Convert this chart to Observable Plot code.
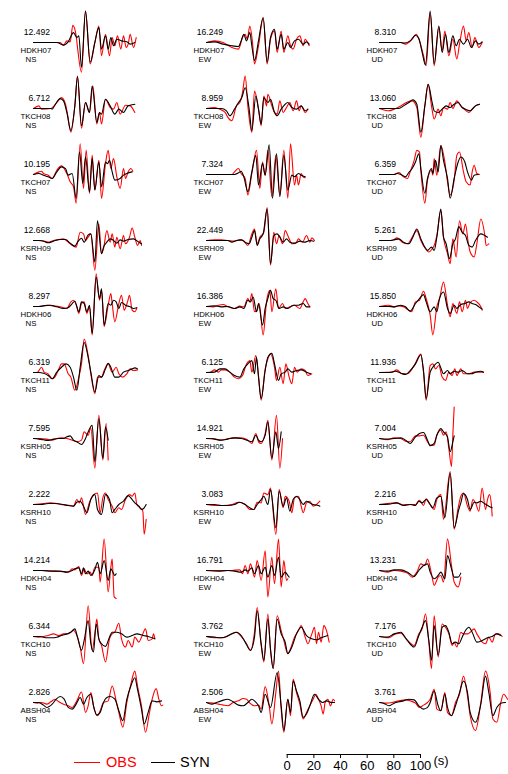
<!DOCTYPE html>
<html><head><meta charset="utf-8">
<script src="https://cdn.jsdelivr.net/npm/d3@7"></script>
<script src="https://cdn.jsdelivr.net/npm/@observablehq/plot@0.6"></script>
<style>
body{margin:0;background:#fff;}
#wrap{position:relative;width:508px;height:774px;font-family:"Liberation Sans",Arial,sans-serif;overflow:hidden;}
#wrap svg{display:block;}
.ln{position:absolute;height:0;}
.tx{position:absolute;font-size:14.5px;line-height:15px;}
</style></head><body><div id="wrap"></div>
<script>
const stations = ["HDKH07","TKCH08","TKCH07","KSRH09","HDKH06","TKCH11","KSRH05","KSRH10","HDKH04","TKCH10","ABSH04"];
const components = ["NS","EW","UD"];
const peakNS = ["12.492","6.712","10.195","12.668","8.297","6.319","7.595","2.222","14.214","6.344","2.826"];
const peakEW = ["16.249","8.959","7.324","22.449","16.386","6.125","14.921","3.083","16.791","3.762","2.506"];
const peakUD = ["8.310","13.060","6.359","5.261","15.850","11.936","7.004","2.216","13.231","7.176","3.761"];
const timeTicks = [0,20,40,60,80,100];

// [time (s), amplitude (% of panel max)]
const obsNS = [
[[0,0],[20,0],[22.5,-8],[25,5],[27.5,2],[29.5,52],[32,20],[33,-15],[36,-90],[39,95],[42.5,-65],[46,0],[49,50],[51,-40],[54,25],[57,-40],[59,15],[61,-10],[63,20],[65.5,-20],[67.5,20],[69.5,-15],[71,-5],[72.5,25],[75,-15],[77,15]],
[[0,0],[4,8],[6,-2],[13,0],[17.5,18],[21,33],[24,13],[25.5,-17],[28,-72],[31,8],[33,98],[36,-60],[39,18],[42,-12],[44.5,68],[47.5,-47],[49.5,-12],[51,-47],[54,28],[57.5,3],[60,-2],[62.5,18],[65,-17],[69,10],[72.5,8],[76,-12]],
[[0,0],[4,8],[6,10],[7.5,3],[11,-2],[14,-12],[17.5,13],[21,26],[25,3],[27.5,-22],[30,-37],[32,-87],[35,93],[37.5,-42],[39.5,73],[42,-57],[44,58],[46,-47],[49,43],[51,-72],[54,33],[56,73],[58,18],[60,48],[62.5,-7],[65,-42],[67.5,18],[69,-12],[71,8],[73,18],[74.5,10]],
[[0,0],[6,0],[11,-5],[15,0],[19,3],[22.5,5],[27.5,-10],[32,-20],[35,25],[37.5,20],[39,0],[41,10],[43,20],[46,-90],[49,50],[51,-40],[52.5,-25],[55,30],[57.5,-5],[59,20],[61,-20],[62.5,10],[65,-25],[67.5,15],[69,-10],[72,10],[74,38],[76,10],[78,-15],[80,0],[81,-15]],
[[0,0],[5,0],[10,4],[15,2],[20,-1],[25,-6],[28,14],[30,19],[32.5,-1],[34,-21],[36,9],[38,14],[40,-21],[42,-1],[44,-86],[47,99],[49.5,19],[51,49],[53,-61],[56,4],[58,39],[59,9],[61,-46],[64,9],[66,34],[68,-11],[70.5,14],[72,34],[74,-11],[76,-16],[77.5,-4]],
[[0,0],[3,1],[6,16],[8,1],[11,-4],[14,-19],[16,-14],[19,11],[21,26],[23,26],[26,-4],[28,-14],[31,-54],[34,-14],[36,26],[38,101],[41,51],[43,-4],[46,-64],[48,-14],[51,-14],[53,6],[56,26],[59,1],[62,16],[64,-4],[67,-14],[70,-4],[72.5,11],[75,6],[78,8]],
[[0,0],[5,0],[10,-2],[14,-5],[17.5,0],[21,2],[25,0],[29,-5],[32.5,-10],[36,-5],[38,20],[41,10],[43,32],[46,-90],[49,70],[52,-65],[54.5,45],[56,-65]],
[[0,0],[7.5,3],[12.5,5],[17.5,3],[22.5,-1],[27.5,-3],[30,-5],[32.5,15],[34.5,5],[36,20],[39,-30],[42,7],[45,30],[48,35],[50,-25],[52,20],[54,35],[56,15],[59,-5],[61,-25],[64,-10],[66,-15],[69,15],[72,30],[74,25],[76,35],[77.5,0],[80,-10],[82,-20],[83,-90],[84.5,-45]],
[[0,0],[7.5,0],[16,-2],[22.5,-4],[26,-5],[29,5],[31,2],[34,12],[36,-15],[38,5],[40,-10],[42.5,-5],[44,-15],[46,10],[49,10],[50,-35],[53,95],[56,-65],[58,10],[59,35],[60.5,-80],[62,-85]],
[[0,0],[4,-2],[7.5,0],[11,3],[15,8],[19,3],[22.5,8],[26,8],[30,18],[32.5,3],[35,-32],[37.5,-82],[41,93],[44,-42],[46,8],[47.5,53],[49,-7],[51,-27],[54,-77],[57,-7],[59,8],[61,13],[64,40],[66,-7],[69,-32],[71,-12],[74,-32],[76,-2],[79,-17],[81,-2],[84,23],[86,-12],[89,-7],[90,8],[91,-7]],
[[0,0],[3,-2],[6,0],[10,-5],[13,2],[16,10],[19,2],[22.5,-5],[26,-10],[29,-15],[32.5,5],[36,32],[39,-30],[41,-10],[43,30],[45.5,-20],[48,-40],[50,-25],[52.5,0],[56,5],[59,50],[62,5],[64,-30],[67,-75],[70,0],[73,55],[76,95],[78,50],[81,-10],[84,-90],[87,-30],[89,10],[92,42],[94,10],[96,-10],[97,-8]]
];
const synNS = [
[[0,0],[17.5,0],[22.5,-8],[26,2],[30,30],[32.5,15],[34,20],[36,-75],[39,95],[42.5,-60],[46,0],[49,45],[51,-20],[54,20],[56,-20],[58,15],[60,-10],[62.5,10],[66,5],[70,2],[72.5,-5],[76,0]],
[[0,0],[13,0],[14,-2],[16,10],[20,30],[22.5,23],[25,-12],[28,-67],[31,8],[33,96],[36,-52],[39,18],[42,-12],[44,68],[47.5,-42],[49.5,-12],[51,-17],[54,28],[57.5,8],[61,-17],[64,-2],[67.5,-12],[71,8],[76,13]],
[[0,0],[4,3],[7.5,-2],[11,-7],[14,-12],[17.5,8],[21,23],[24,18],[26,-2],[29,3],[32,-72],[34.5,68],[37,-27],[39,53],[42,-52],[44,48],[46,-47],[49,38],[51,-37],[54,38],[55.5,33],[57,43],[59,8],[61,-17],[65,-12],[67.5,-2],[70,3],[74,8]],
[[0,0],[4,0],[7.5,-2],[11,-7],[15,-2],[20,3],[24,3],[27.5,-8],[31,-17],[33,-5],[36,7],[38,-5],[41,17],[43,20],[46,-65],[48,60],[51,-40],[52.5,-20],[55,-5],[57.5,5],[60,0],[62.5,-8],[65,2],[67.5,-2],[71,3],[75,5],[79,-5],[81,-10]],
[[0,0],[4,0],[7.5,2],[12.5,4],[17.5,-1],[22.5,-6],[26,-4],[29,9],[31,16],[34,-16],[36,14],[38,9],[40,-16],[42,4],[44,-81],[47,89],[49.5,24],[51,54],[53,-56],[56,9],[58,4],[60,19],[62,14],[64,-6],[66,12],[69,4],[72.5,-1],[75,-6],[77.5,-4]],
[[0,0],[4,0],[7.5,-2],[11,-9],[14,-19],[17.5,1],[21,16],[24.5,26],[27.5,16],[30,-14],[32.5,-54],[35,16],[38,91],[41,46],[43,1],[46,-59],[49,-9],[51,-14],[54,11],[56,28],[58,16],[61,-14],[64,-14],[67.5,1],[71,6],[74,11],[76,14],[78,11]],
[[0,0],[4,-2],[7.5,-4],[11,-6],[15,-2],[19,0],[22.5,0],[25,5],[27.5,8],[30,-5],[32.5,-10],[36,-18],[39,0],[41,20],[44,40],[46,-70],[49,60],[52,-60],[54,35],[56,-5]],
[[0,0],[6,0],[11,3],[16,3],[21,1],[26,-3],[30,-5],[32.5,7],[35,10],[37.5,-5],[40,-25],[43,15],[46,30],[48,-15],[51,-30],[54,30],[57,15],[59,-25],[61,-15],[64,0],[67.5,10],[71,27],[74,15],[76,5],[79,-5],[81,-15],[83,-10],[84.5,0]],
[[0,0],[6,0],[14,-2],[20,-2],[25,-5],[29,0],[31,5],[34,8],[36,-10],[37.5,8],[39,-10],[41,-2],[43,-15],[46,2],[48,25],[50,-10],[53,30],[56,-30],[58,5],[59.5,-5],[61,-15],[62,-10]],
[[0,0],[5,0],[10,-4],[14,-4],[17.5,-2],[21,3],[25,8],[28,13],[31,23],[33,-2],[36,-42],[38,-12],[41,48],[43,-22],[45,-47],[47,38],[49,-7],[51,-22],[54,-30],[57,-2],[59,13],[62.5,13],[66,8],[70,-2],[74,3],[77.5,8],[82.5,3],[86,0],[91,-7]],
[[0,0],[4,0],[7.5,-8],[10,-15],[14,-5],[17,10],[20,18],[23,10],[26,-15],[29,-20],[32,-5],[35,15],[37.5,-5],[40,15],[43,25],[45,-10],[47.5,-38],[50,-30],[52.5,0],[55,15],[57.5,18],[61,10],[64,-25],[67,-55],[70,10],[73,50],[76,75],[78,40],[81,-20],[83,-65],[86,-30],[89,5],[92.5,2],[96,5]]
];
const obsEW = [
[[0,0],[6,5],[12.5,0],[19,-15],[24,-20],[27,15],[29,25],[30.5,10],[32.5,50],[34.5,0],[36,-65],[39,-10],[42.5,75],[45.5,-65],[48,10],[51,35],[53,-30],[56,35],[58,-30],[61,20],[63,-10],[65,-20],[67.5,10],[70,20],[72.5,-10],[74,10],[77,-10]],
[[0,0],[6,3],[10,-2],[14,-12],[16,-27],[19,-37],[22.5,8],[25,18],[27,48],[29,98],[31,8],[34,-72],[36,53],[39,-2],[41,-52],[43,38],[45,8],[46,43],[49,8],[51,-12],[53,-17],[55,23],[57.5,-12],[60,3],[62.5,18],[65,-7],[67.5,23],[69.5,-7],[71,8],[74,-12],[76,-2]],
[[0,0],[19,0],[21,8],[24,18],[26,3],[29,-12],[31,-62],[34,3],[37.5,73],[40,-42],[42,38],[44,-2],[46,73],[49,-67],[52,58],[55,-62],[58,73],[61,-72],[63,93],[66,-32],[67.5,-2],[69,-32],[71,3],[72.5,-7],[74,-10]],
[[0,0],[6,2],[11,2],[16,0],[21,-2],[25,2],[27.5,0],[31,-15],[34,20],[36,35],[38,-10],[40,10],[43,25],[45.5,100],[48,-75],[50.5,25],[52.5,-10],[54.5,15],[57,-10],[59,30],[62,5],[64,-10],[67,-8],[69,5],[72,-5],[75,15],[77.5,-5],[79,8],[81,0]],
[[0,0],[5,-1],[9,4],[12.5,6],[16,-1],[21,-6],[25,1],[28,-1],[31,24],[32.5,14],[34,39],[36,-16],[38,-11],[39.5,9],[42.5,-86],[45,14],[47.5,49],[49,-16],[52,54],[54,-6],[57,9],[59,-6],[62.5,-1],[66,4],[70,-6],[72.5,14],[74,24],[76,9],[77.5,-1]],
[[0,0],[3,1],[6,8],[9,1],[11,8],[14,8],[17.5,1],[21,-14],[24,-19],[27,-9],[30,26],[32.5,36],[34,1],[37,51],[39,-9],[41,-84],[44,11],[46,41],[48,56],[51,16],[52.5,-24],[55,16],[57.5,-34],[59.5,26],[62,-14],[64,-34],[66,16],[68,1],[71,11],[74,6],[76,-9],[79,-4]],
[[0,0],[5,0],[10,-5],[15,-2],[20,2],[25,2],[30,-2],[34,-15],[37,15],[39,-10],[41,-15],[44,15],[46,55],[49,-65],[52.5,70],[55,-90],[57,0]],
[[0,0],[6,-3],[12.5,-3],[19,0],[24,7],[29,0],[32.5,-15],[35.5,-15],[38,7],[41,5],[43,35],[46,30],[48,50],[52,-90],[54.5,45],[57.5,-10],[59,25],[62,10],[64,-25],[66,20],[69,25],[71,-5],[72.5,-25],[75,5],[77.5,10],[80,-5],[82.5,0],[85,10]],
[[0,0],[9,0],[19,0],[25,2],[27,-10],[29,15],[31,-10],[33,20],[36,-20],[38,30],[41,-30],[44,60],[46,-80],[49,40],[51,-40],[54,95],[56,-50],[58,30],[60,-30],[61,-25]],
[[0,0],[6,-4],[12.5,-4],[19,8],[22.5,13],[26,0],[30,-22],[33,-42],[36,13],[38,88],[41,-27],[43,-77],[46,68],[48,-42],[50,-97],[53,63],[56,18],[58,-12],[61,-52],[63,-37],[66,-2],[69,18],[71,33],[74,-2],[76,-22],[79,8],[81,28],[82.5,-22],[84,13],[86,-17],[88,33],[90,18],[92,-17]],
[[0,0],[5,-2],[9,-5],[12.5,-8],[16,-10],[20,0],[24,5],[27.5,12],[30,10],[32.5,-2],[36,-10],[39,-8],[41,-20],[44,48],[47,-10],[49,-65],[52,30],[54,95],[56,-20],[58,-90],[61,10],[63,-40],[65,70],[67.5,30],[70,-5],[72.5,-50],[75,-30],[77.5,-10],[80,10],[82,25],[84,10],[86,-10],[87.5,-35],[89,0],[91,10],[93,-10],[95,10],[96,5]]
];
const synEW = [
[[0,0],[6,2],[12.5,-5],[19,-10],[24,-12],[26,5],[28,25],[30,5],[32.5,30],[34,-10],[36,-55],[39,5],[42.5,75],[45.5,-60],[48,15],[51,40],[53,-20],[56,25],[58,-20],[61,0],[63,-15],[66,5],[69,10],[72.5,-5],[75,2],[77,-5]],
[[0,0],[9,0],[11,0],[15,-7],[17.5,-22],[21,-2],[24,18],[26.5,33],[29,63],[32,-2],[34,-67],[37,38],[39,-2],[41,-47],[43,33],[46,18],[48,28],[51,-12],[53,-22],[56,-2],[59,13],[61,18],[64,3],[67.5,-2],[71,8],[74,-7],[76,-2]],
[[0,0],[21,0],[24,5],[26,10],[28,-7],[31,-52],[34,8],[37,58],[39,-32],[42,33],[44,-2],[47,90],[49.5,-72],[52.5,63],[55,-67],[58,58],[61,-47],[64,-2],[66,-7],[69,3],[71,-2],[74,-7]],
[[0,0],[16,0],[19,-5],[22.5,0],[26,2],[29,-5],[32,-10],[34,10],[36,30],[38,-15],[40,5],[42.5,20],[45.5,95],[48,-70],[50.5,15],[53,20],[55,10],[57.5,-5],[60,5],[62.5,-5],[66,-8],[70,-2],[74,-5],[77.5,0],[80.5,-2]],
[[0,0],[6,2],[11,-1],[16,0],[21,-6],[25,-1],[28,-6],[31,19],[33,14],[35,29],[37.5,-16],[39,9],[42,-56],[44,-6],[46,24],[48,49],[50,24],[52,19],[54.5,-6],[57.5,-1],[61,-6],[65,4],[69,4],[72.5,9],[75,-1],[77.5,-1]],
[[0,0],[6,1],[10,11],[14,11],[17.5,1],[21,-9],[25,-14],[28,11],[31,26],[34,36],[36,-4],[37.5,46],[39,-14],[41,-79],[44,6],[46,46],[49,58],[51,26],[54,-24],[56,-4],[59,1],[61,11],[64,1],[67.5,6],[71,8],[75,1],[78,-4]],
[[0,0],[6,-2],[11,-5],[16,-2],[21,2],[26,0],[30,-5],[34,-10],[37,10],[39,-5],[41,-10],[44,10],[46,50],[49,-60],[52,20],[54,-30],[56,20]],
[[0,0],[6,0],[11,-3],[16,-3],[21,0],[25,7],[29,0],[32.5,-10],[35.5,-15],[38,0],[41,15],[43,25],[46,0],[48,45],[52,-70],[54.5,40],[57.5,-5],[60,20],[62.5,-20],[65,15],[67.5,25],[70,15],[72.5,0],[75,10],[77.5,5],[80,0],[84,-3],[85,-5]],
[[0,0],[9,-2],[16,0],[21,-2],[26,-5],[29,2],[31,-2],[34,8],[36,-10],[39,15],[41,-10],[44,10],[46,-20],[49,15],[51,-15],[54,40],[56,-20],[59,-5],[61,-15],[62,-20]],
[[0,0],[6,-2],[11,-4],[15,0],[19,8],[22.5,13],[26,3],[29,-17],[33,-42],[36,-2],[38,78],[41,-22],[43,-72],[46,53],[48,-37],[50,-97],[53,53],[56,8],[59,-17],[61,-52],[64,-32],[67.5,8],[71,28],[75,3],[79,-7],[82.5,-10],[86,-4],[91,3]],
[[0,0],[4,-5],[7.5,0],[11,5],[16,10],[20,2],[24,-8],[27.5,-10],[31,0],[34,10],[36,5],[39,-10],[41,-30],[44,25],[48,-15],[53,90],[56,-10],[58,-85],[61,10],[63,-30],[65,65],[67.5,35],[70,5],[72.5,-45],[75,-35],[77.5,-10],[81,25],[84,10],[87,0],[90,5],[94,0],[96,0]]
];
const obsUD = [
[[0,0],[16,0],[19.5,-5],[24.5,10],[27.5,25],[30,5],[33,-40],[35,-70],[38,90],[41,-70],[44.5,45],[47,-25],[49,35],[52,-40],[55,10],[58,-50],[60,-5],[63,50],[65,5],[67,30],[69.5,-15],[71.5,15],[74.5,-15],[77,0]],
[[0,0],[7,-7],[11,-2],[16,8],[21,20],[24.5,23],[28,3],[31,-87],[34,8],[36.5,73],[39,8],[41,-32],[44,-2],[46,-22],[48,3],[51,-2],[53,18],[55,0],[58,23],[61,8],[63,0],[67,-12],[69.5,-2],[72,8],[75,13]],
[[0,0],[11,0],[14.5,6],[18,-7],[21,-12],[23,8],[26,43],[28,73],[30,68],[31,13],[34,-87],[36,-17],[39,13],[40,-2],[41,48],[43,-2],[46,88],[49,38],[51,-22],[53,-62],[56,-17],[58,58],[60,68],[63,8],[65,-22],[68,-32],[69.5,8],[71,28],[73,3],[75,0]],
[[0,0],[8,0],[11,3],[13,8],[17,-5],[21,-10],[24.5,10],[28,30],[31,0],[34.5,-25],[37,-35],[39.5,-25],[41,-15],[43,15],[46,90],[48,10],[51,-40],[53,-70],[55,5],[57.5,-50],[60,60],[62.5,20],[64.5,50],[66.5,-5],[68,-35],[71,-50],[73,-10],[76,65],[79,15],[80,-15],[82,-10]],
[[0,0],[7,4],[11,-1],[14.5,2],[18,-1],[24,-16],[27,14],[30,19],[33,46],[35,24],[38,-26],[40,-86],[43,-1],[45,24],[48,74],[51,4],[53,-31],[55,9],[58,-21],[60,14],[62,-16],[64.5,19],[66,-6],[68,12],[71,19],[73,14],[76,-1],[77,-11]],
[[0,0],[9.5,1],[13,8],[17,-4],[21,-4],[26,21],[31,56],[33,1],[35,-84],[38,21],[40,26],[42,11],[44.5,21],[47,-14],[49.5,-24],[52,1],[54.5,-9],[56.5,11],[58,-9],[61,11],[63,-4],[67,-4],[71,1],[74.5,1],[78,1]],
[[0,0],[6,-4],[11,2],[16,0],[19.5,-8],[23,-10],[27,8],[30,8],[33,10],[36,-10],[38,-20],[41,-20],[43,10],[46,25],[48,10],[50,20],[52,-30],[54,-85],[55,10],[56,95]],
[[0,0],[6,3],[12,5],[18,-1],[23,0],[27,0],[30,13],[33,-3],[35,17],[38,0],[41,-15],[43,15],[46,30],[48,-45],[53,100],[56,-75],[59,-10],[61,25],[63,35],[66,-5],[68,-20],[70,15],[72,5],[74.5,-20],[77,50],[79.5,-15],[81,15],[82.5,30],[84,-5],[84.5,-35]],
[[0,0],[6,-5],[11,0],[16,-2],[21,-8],[24.5,-20],[28,-5],[31,20],[34,15],[36,35],[39,-10],[41,-45],[44,-20],[46,-15],[48,-35],[51,95],[54,15],[56,-35],[59,-50],[61,-20]],
[[0,0],[7,-4],[12,8],[16,10],[20,-7],[26,-27],[29.5,8],[32,23],[34.5,68],[37,-17],[39,-97],[41,63],[44,-62],[47,38],[49.5,28],[52,8],[54.5,-27],[56,-17],[58,-32],[61,13],[63,8],[66,8],[68,13],[71,23],[73,8],[74.5,-2],[77,-17],[79.5,-22],[82,-2],[84.5,-17],[87,8],[89.5,8],[92,0]],
[[0,0],[4.5,-2],[9.5,0],[14.5,5],[19.5,8],[23,5],[27,-2],[30,-15],[33,-8],[36,0],[38,10],[41,40],[43,-20],[46,-25],[49,30],[51,-30],[54,-40],[57,0],[60,25],[63,80],[66,20],[68,-40],[72,-85],[76,0],[79.5,95],[83,30],[85,-50],[88,-60],[91,0],[93,25],[96,10]]
];
const synUD = [
[[0,0],[16,0],[18,-2],[23,5],[27,22],[29.5,12],[32,-30],[34.5,-68],[38,95],[41,-65],[44.5,50],[47,-30],[49.5,25],[52,-30],[55,20],[57.5,-10],[60,10],[63,-5],[66,10],[69,-15],[72,5],[74.5,-5],[77,2]],
[[0,0],[14.5,0],[18,8],[22,18],[25,26],[28,13],[31,-72],[34,8],[36.5,73],[39.5,18],[41,-7],[44,-12],[47,-2],[50,8],[53,3],[56,13],[59,18],[62,3],[64.5,-2],[68,-7],[72,8],[75,13]],
[[0,0],[11,0],[13,3],[17,-2],[19.5,-7],[22,6],[24.5,18],[27,38],[29.5,63],[31,18],[34,-57],[36,-12],[39,18],[40,3],[42,43],[44,8],[46,88],[48,43],[51,-12],[53,-72],[56,-12],[59,38],[61,53],[64,38],[66,8],[69,-17],[71,-2],[74,0]],
[[0,0],[7,0],[11,2],[14.5,5],[18,-5],[22,-10],[25,10],[28,35],[31,5],[34,-20],[36,-30],[39,-20],[41,-30],[43,10],[46,95],[48,10],[50,-10],[52.5,-55],[55,-10],[57,5],[59.5,42],[62,25],[64.5,15],[67,-15],[69.5,-20],[72,0],[76,20],[79,15],[81,10]],
[[0,0],[7,0],[11,-1],[16,4],[19.5,-1],[23,-14],[27,9],[30,24],[33,36],[35,14],[38,-16],[41,-1],[43,-16],[45,24],[48,44],[51,-6],[53,-21],[56,4],[58,-6],[61,6],[64,9],[67,14],[69.5,9],[72,6],[74.5,-1],[77,-8]],
[[0,0],[8,0],[12,4],[16,-2],[19.5,-6],[23,6],[27,26],[31,54],[33,6],[35,-79],[38,1],[41,21],[44,31],[46,14],[48,-4],[51,6],[53,-4],[56,4],[59,1],[62,6],[66,-4],[69,-4],[72,1],[76,4],[78,1]],
[[0,0],[6,-2],[11,0],[16,2],[19.5,-5],[23,-15],[27,5],[30,15],[33,18],[36,-5],[38,-22],[41,-15],[43,10],[46,30],[48,20],[51,5],[53,-40],[55,-10],[56,8]],
[[0,0],[7,1],[13,5],[18,-3],[23,0],[27,-3],[29.5,10],[32,5],[35,15],[38,0],[40,-10],[43,20],[46,25],[49,-40],[53,95],[56,-70],[59.5,-15],[61,5],[63,33],[66,15],[68,-15],[71,7],[73,5],[76,10],[78,5],[82,-5],[84.5,-10]],
[[0,0],[6,-2],[11,2],[16,2],[21,-5],[26,-18],[29.5,0],[33,15],[36,20],[38,-5],[41,-25],[44,-15],[46,-5],[49,-25],[51,45],[54,5],[56,-20],[59,-20],[61,-8]],
[[0,0],[6,-2],[11,8],[16,13],[20,-7],[26,-32],[29.5,3],[32,28],[34.5,48],[37,-12],[39,-72],[41,33],[44,-57],[47,28],[49.5,33],[52,13],[54.5,-22],[57,-17],[59.5,-22],[62,-2],[64.5,18],[67,28],[69.5,13],[73,-17],[77,-12],[81,-4],[84.5,0],[88,8],[91,3]],
[[0,0],[3,-2],[7,-10],[11,-2],[14.5,2],[18,5],[22,10],[26,8],[29.5,-10],[33,-20],[36,-15],[38,0],[41,35],[44,-10],[46,-25],[49,25],[51,-15],[54,-40],[57,-10],[60,30],[63,65],[66,30],[68,-30],[72,-60],[76,-5],[79.5,80],[82,30],[85,-40],[88,-15],[91,-2],[94.5,0]]
];

const seriesByComp = {NS: [obsNS, synNS, peakNS], EW: [obsEW, synEW, peakEW], UD: [obsUD, synUD, peakUD]};
const rows = [], labels = [];
components.forEach(comp => {
  const [obs, syn, pk] = seriesByComp[comp];
  stations.forEach((st, i) => {
    obs[i].forEach(([t, a]) => rows.push({comp, station: st, series: "OBS", t, a}));
    syn[i].forEach(([t, a]) => rows.push({comp, station: st, series: "SYN", t, a}));
    labels.push({comp, station: st, peak: pk[i], t: 0, a: 0});
  });
});

const font = '"Liberation Sans", Arial, sans-serif';
const wrap = document.getElementById("wrap");

const main = Plot.plot({
  width: 508, height: 738,
  marginLeft: 32, marginRight: 9, marginTop: 7, marginBottom: 2,
  style: {fontFamily: font, background: "transparent", overflow: "visible"},
  fx: {domain: components, paddingInner: 0.3084, paddingOuter: 0, axis: null, label: null},
  fy: {domain: stations, paddingInner: 0, paddingOuter: 0, axis: null, label: null},
  x: {domain: [0, 90], axis: null},
  y: {domain: [-100, 100], axis: null},
  marks: [
    Plot.line(rows.filter(d => d.series === "OBS"), {x: "t", y: "a", fx: "comp", fy: "station", stroke: "#ff0000", strokeWidth: 1.1, curve: "monotone-x"}),
    Plot.line(rows.filter(d => d.series === "SYN"), {x: "t", y: "a", fx: "comp", fy: "station", stroke: "#000000", strokeWidth: 1.1, curve: "monotone-x"}),
    Plot.text(labels, {x: "t", y: "a", fx: "comp", fy: "station", text: "peak", textAnchor: "end", dx: 16.5, dy: -10, fontSize: 8.6, fill: "#000"}),
    Plot.text(labels, {x: "t", y: "a", fx: "comp", fy: "station", text: "station", textAnchor: "start", dx: -13, dy: 8.2, fontSize: 7.8, fill: "#000"}),
    Plot.text(labels, {x: "t", y: "a", fx: "comp", fy: "station", text: "comp", textAnchor: "start", dx: -8, dy: 17.3, fontSize: 7.8, fill: "#000"})
  ]
});
wrap.appendChild(main);

const bar = Plot.plot({
  width: 508, height: 36,
  marginLeft: 286.7, marginRight: 88, marginTop: 0, marginBottom: 20,
  style: {fontFamily: font, background: "transparent", overflow: "visible"},
  x: {domain: [0, 100], label: null},
  marks: [
    Plot.frame({anchor: "bottom", stroke: "#000", strokeWidth: 1}),
    Plot.axisX(timeTicks, {anchor: "bottom", tickSize: 4, tickPadding: 2, fontSize: 13, label: null, stroke: "#000", fill: "#000"}),
    Plot.text(["(s)"], {x: () => 100, frameAnchor: "bottom", textAnchor: "start", dx: 13, dy: 10.5, fontSize: 13, fill: "#000"})
  ]
});
wrap.appendChild(bar);

// legend
function addEl(cls, css, text) {
  const el = document.createElement("div");
  el.className = cls;
  Object.assign(el.style, css);
  if (text) el.textContent = text;
  wrap.appendChild(el);
}
addEl("ln", {left: "74px", top: "762px", width: "26px", borderTop: "1px solid #ff0000"});
addEl("tx", {left: "106px", top: "755px", color: "#ff0000"}, "OBS");
addEl("ln", {left: "151px", top: "762px", width: "24px", borderTop: "1px solid #000"});
addEl("tx", {left: "180px", top: "755px", color: "#000"}, "SYN");
</script>
</body></html>
